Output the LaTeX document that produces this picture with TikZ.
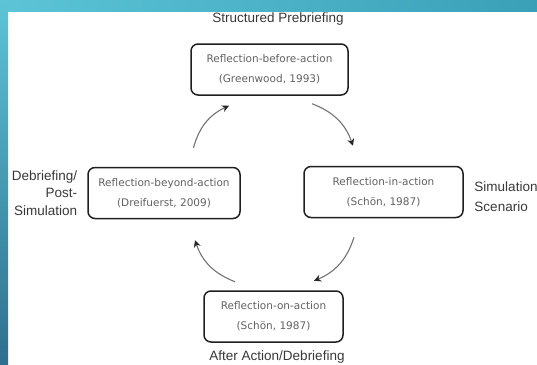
\documentclass[tikz,border=0pt]{standalone}
\usepackage{fontspec}
\setmainfont{Liberation Sans}
\newfontfamily\reflfont{DejaVu Sans}
\usetikzlibrary{arrows.meta, positioning}
\definecolor{slidecyan}{HTML}{5CC4D6}
\definecolor{slideteal}{HTML}{3AA0B8}
\definecolor{slideblue}{HTML}{2F6F90}
\tikzset{node distance = 2cm, on grid,
         reflbox/.style = {draw = black!88, line width = 1.5pt,
                           rounded corners = 7pt, minimum height = 51pt,
                           align = center, text = black!62,
                           font = \reflfont\fontsize{10.5}{20}\selectfont},
         phase/.style = {text = black!78,
                         font = \fontsize{13.5}{17.5}\selectfont},
         cyclearrow/.style = {draw = black!55, line width = 1.1pt,
                              bend left = 25,
                              -{Stealth[length = 7pt, width = 7pt, color = black!85]}}}

\begin{document}
\begin{tikzpicture}[x = 1pt, y = -1pt]
  \useasboundingbox (0,0) rectangle (537,364);
  % slide frame
  \shade[left color = slidecyan, right color = slideteal] (0,0) rectangle (537,11);
  \shade[top color = slidecyan, bottom color = slideblue] (0,0) rectangle (8,364);

  \node[reflbox, minimum width = 157pt] (before) at (269.5,69.5)
        {Reflection-before-action\\(Greenwood, 1993)};
  \node[reflbox, minimum width = 159pt] (inaction) [below right = 122.5pt and 114pt of before]
        {Reflection-in-action\\(Schön, 1987)};
  \node[reflbox, minimum width = 139pt] (onaction) [below right = 247pt and 4pt of before]
        {Reflection-on-action\\(Schön, 1987)};
  \node[reflbox, minimum width = 152pt] (beyond) [below left = 123.5pt and 105.5pt of before]
        {Reflection-beyond-action\\(Dreifuerst, 2009)};

  \node[phase] (prebrief) [above right = 50.5pt and 8.5pt of before] {Structured Prebriefing};
  \node[phase, align = left, font = \fontsize{13.5}{20}\selectfont] (scenario)
        [below right = 5pt and 122.5pt of inaction] {Simulation\\Scenario};
  \node[phase, align = right] (debrief) [left = 119.5pt of beyond] {Debriefing/\\Post-\\Simulation};
  \node[phase] (afteraction) [below right = 40.5pt and 3.5pt of onaction] {After Action/Debriefing};

  \draw[cyclearrow] ([shift = {(42.5,8)}]before.south) to ([shift = {(-30.5,-20)}]inaction.north);
  \draw[cyclearrow] ([shift = {(-29.5,19)}]inaction.south) to ([shift = {(40.5,-9.5)}]onaction.north);
  \draw[cyclearrow] ([shift = {(-38.5,-8.5)}]onaction.north) to ([shift = {(31,21)}]beyond.south);
  \draw[cyclearrow] ([shift = {(29.5,-19)}]beyond.north) to ([shift = {(-40.5,10)}]before.south);
\end{tikzpicture}
\end{document}
